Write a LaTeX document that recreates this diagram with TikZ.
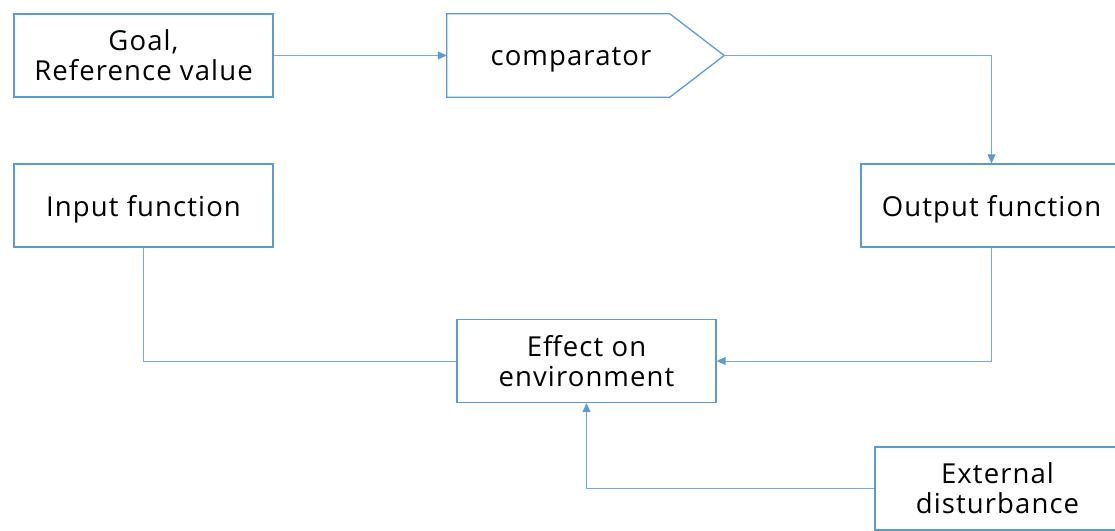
\documentclass[tikz,border=0pt]{standalone}
\usepackage{fontspec}
\setmainfont[LetterSpace=4]{Open Sans}
\usetikzlibrary{arrows.meta,calc}
\definecolor{boxblue}{RGB}{91,155,213}
\definecolor{linkblue}{RGB}{115,170,225}
\begin{document}
\begin{tikzpicture}[x=1pt,y=-1pt,
  block/.style={draw=boxblue,line width=1.3pt,fill=white,minimum width=259pt,minimum height=83pt,
    inner sep=0pt,align=center,font=\fontsize{27.5}{30}\selectfont},
  oneline/.style={text height=28pt},
  label/.style={inner sep=0pt,align=center,font=\fontsize{27.5}{30}\selectfont},
  link/.style={draw=linkblue,line width=1pt},
  tip/.style={-{Triangle[length=9pt,width=8pt,color=boxblue]},draw=linkblue,line width=1pt}]
\useasboundingbox (0,0) rectangle (1115,530);
\clip (0,0) rectangle (1115,530);

% boxes
\node[block] (goal) at (143.5,55.5) {Goal,\\Reference value};
\node[block,oneline] (input) at (143.5,205.5) {Input function};
\node[block,oneline,minimum width=261pt] (output) at (991.5,205.5) {Output function};
\node[block] (effect) at (586.5,361) {Effect on\\environment};
\node[block,minimum width=245pt] (dist) at (997.5,488.5) {External\\disturbance};

% comparator: pointed signal box
\node[minimum width=277pt,minimum height=83pt,inner sep=0pt] (comp) at (585.5,55.5) {};
\draw[draw=boxblue,line width=1.3pt,fill=white]
  (comp.north west) -- ++(223,0) -- (comp.east) -- ($(comp.south west)+(223,0)$) -- (comp.south west) -- cycle;
\node[label] (comptext) at (571,60) {comparator};

% connectors
\draw[tip] (goal.east) -- (comp.west);
\draw[tip] (comp.east) -| (output.north);
\draw[tip] (output.south) |- (effect.east);
\draw[link] (input.south) |- (effect.west);
\draw[tip] (dist.west) -| (effect.south);
\end{tikzpicture}
\end{document}
